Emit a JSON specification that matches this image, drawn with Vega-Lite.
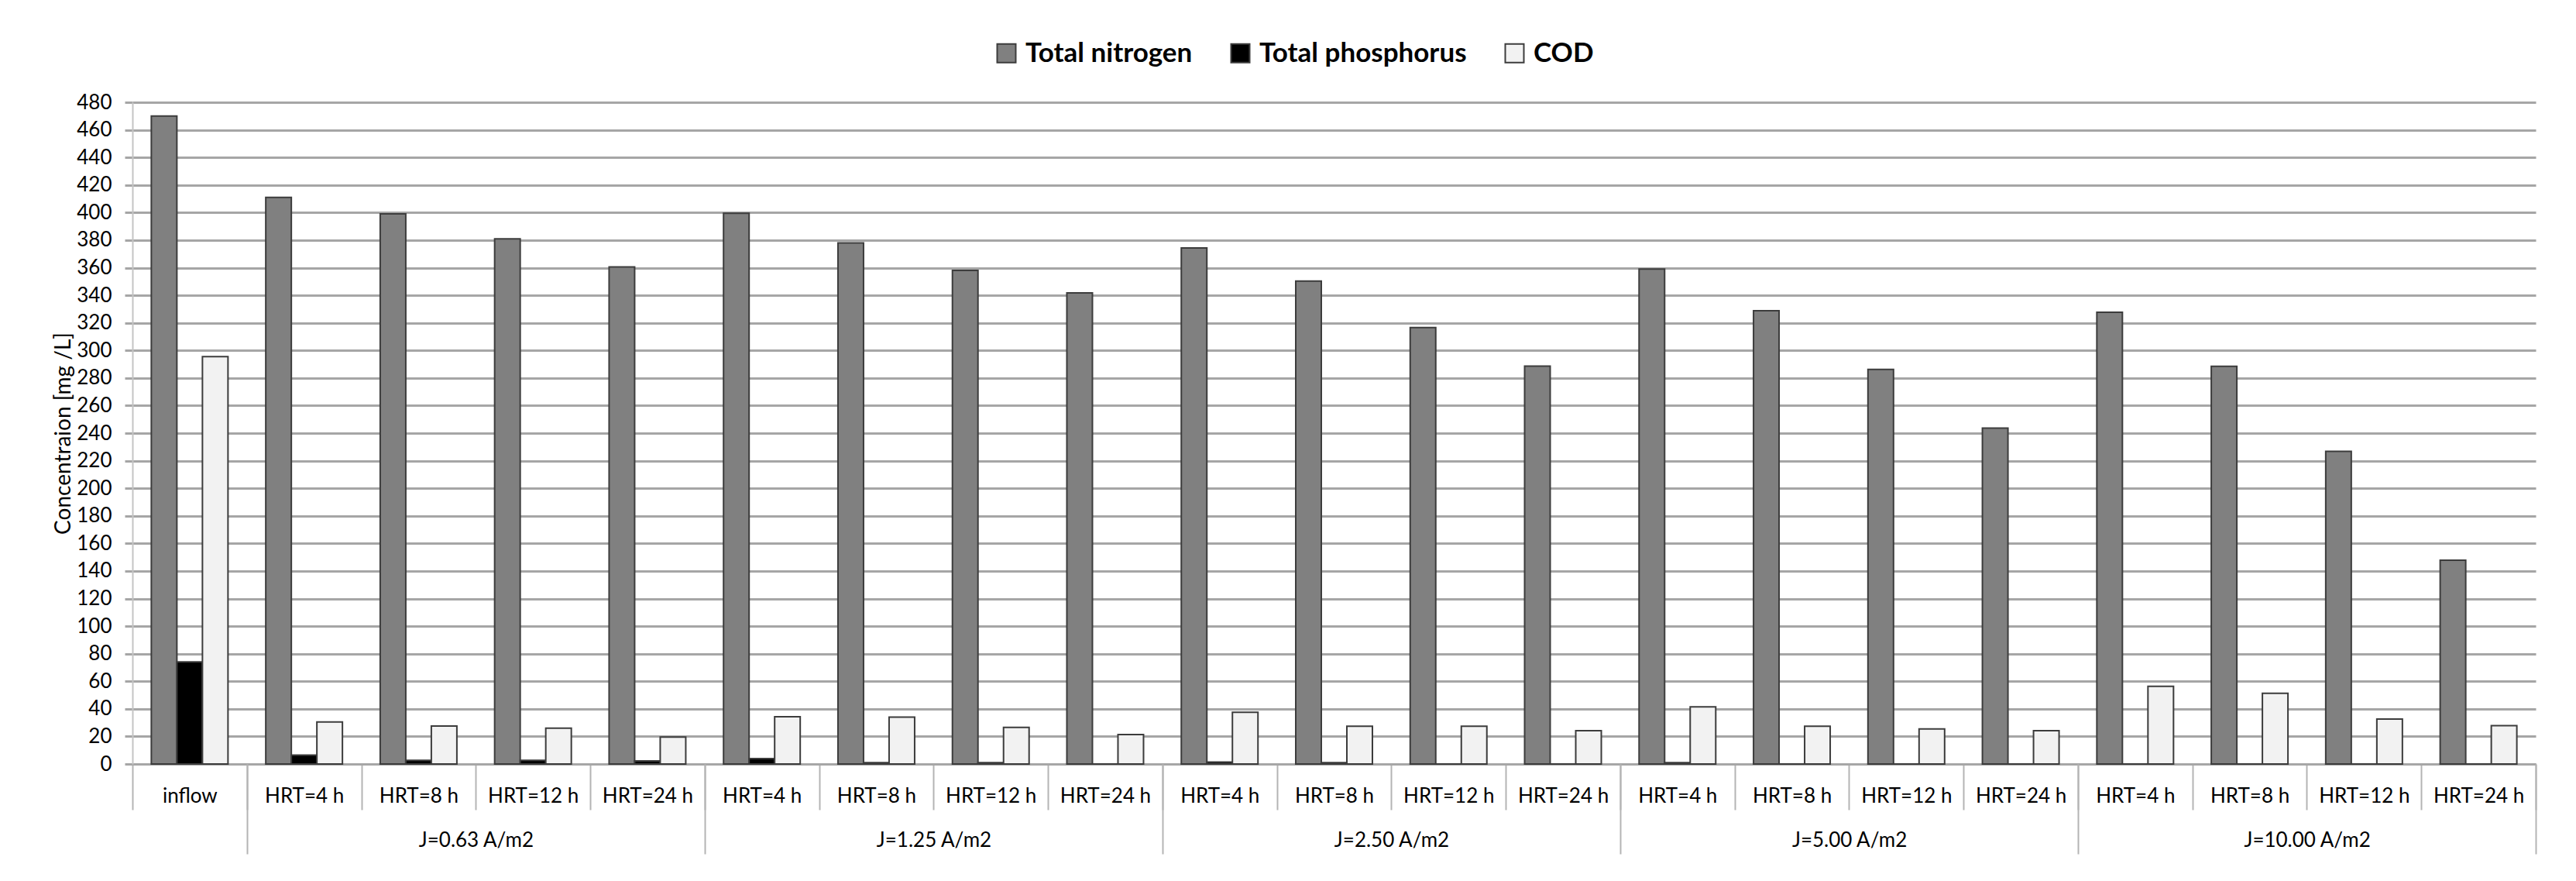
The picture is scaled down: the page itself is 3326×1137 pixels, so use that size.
{
  "$schema": "https://vega.github.io/schema/vega-lite/v6.json",
  "width": 3103,
  "height": 854,
  "autosize": {"type": "none"},
  "padding": {"left": 171, "top": 132, "right": 52, "bottom": 151},
  "background": "white",
  "config": {
    "font": "Lato",
    "view": {"stroke": null},
    "axis": {"labelColor": "#000000", "titleColor": "#000000"}
  },
  "data": {
    "values": [
      {"cat": "inflow", "Total nitrogen": 470, "Total phosphorus": 74, "COD": 295.5},
      {"cat": "J=0.63 A/m2|HRT=4 h", "Total nitrogen": 411, "Total phosphorus": 6.4, "COD": 30.5},
      {"cat": "J=0.63 A/m2|HRT=8 h", "Total nitrogen": 399, "Total phosphorus": 2.6, "COD": 27.5},
      {"cat": "J=0.63 A/m2|HRT=12 h", "Total nitrogen": 381, "Total phosphorus": 2.6, "COD": 26},
      {"cat": "J=0.63 A/m2|HRT=24 h", "Total nitrogen": 360.5, "Total phosphorus": 2.3, "COD": 19.5},
      {"cat": "J=1.25 A/m2|HRT=4 h", "Total nitrogen": 399.5, "Total phosphorus": 3.9, "COD": 34.3},
      {"cat": "J=1.25 A/m2|HRT=8 h", "Total nitrogen": 378, "Total phosphorus": 1, "COD": 34},
      {"cat": "J=1.25 A/m2|HRT=12 h", "Total nitrogen": 358, "Total phosphorus": 1, "COD": 26.5},
      {"cat": "J=1.25 A/m2|HRT=24 h", "Total nitrogen": 341.7, "Total phosphorus": 0, "COD": 21.3},
      {"cat": "J=2.50 A/m2|HRT=4 h", "Total nitrogen": 374.3, "Total phosphorus": 1.4, "COD": 37.5},
      {"cat": "J=2.50 A/m2|HRT=8 h", "Total nitrogen": 350.3, "Total phosphorus": 1, "COD": 27.4},
      {"cat": "J=2.50 A/m2|HRT=12 h", "Total nitrogen": 316.6, "Total phosphorus": 0, "COD": 27.4},
      {"cat": "J=2.50 A/m2|HRT=24 h", "Total nitrogen": 288.6, "Total phosphorus": 0, "COD": 24.2},
      {"cat": "J=5.00 A/m2|HRT=4 h", "Total nitrogen": 359, "Total phosphorus": 1, "COD": 41.5},
      {"cat": "J=5.00 A/m2|HRT=8 h", "Total nitrogen": 328.8, "Total phosphorus": 0, "COD": 27.4},
      {"cat": "J=5.00 A/m2|HRT=12 h", "Total nitrogen": 286.2, "Total phosphorus": 0, "COD": 25.4},
      {"cat": "J=5.00 A/m2|HRT=24 h", "Total nitrogen": 243.7, "Total phosphorus": 0, "COD": 24.2},
      {"cat": "J=10.00 A/m2|HRT=4 h", "Total nitrogen": 327.7, "Total phosphorus": 0, "COD": 56.3},
      {"cat": "J=10.00 A/m2|HRT=8 h", "Total nitrogen": 288.5, "Total phosphorus": 0, "COD": 51.3},
      {"cat": "J=10.00 A/m2|HRT=12 h", "Total nitrogen": 226.8, "Total phosphorus": 0, "COD": 32.6},
      {"cat": "J=10.00 A/m2|HRT=24 h", "Total nitrogen": 147.8, "Total phosphorus": 0, "COD": 27.8}
    ]
  },
  "transform": [
    {"fold": ["Total nitrogen", "Total phosphorus", "COD"], "as": ["series", "value"]}
  ],
  "encoding": {
    "y": {
      "field": "value",
      "type": "quantitative",
      "title": "Concentraion [mg /L]",
      "scale": {"domain": [0, 480], "nice": false},
      "axis": {
        "values": [0, 20, 40, 60, 80, 100, 120, 140, 160, 180, 200, 220, 240, 260, 280, 300, 320, 340, 360, 380, 400, 420, 440, 460, 480],
        "grid": true,
        "gridColor": "#a6a6a6",
        "gridWidth": 3,
        "tickSize": 10,
        "tickColor": "#a6a6a6",
        "tickWidth": 3,
        "domainColor": "#c4c4c4",
        "domainWidth": 2,
        "labelFontSize": 26,
        "labelPadding": 17,
        "titleFontSize": 28,
        "titleFontWeight": "normal",
        "titlePadding": 2
      }
    }
  },
  "layer": [
    {
      "mark": {"type": "bar", "stroke": "#3c3c3c", "strokeWidth": 2},
      "encoding": {
        "x": {
          "field": "cat",
          "type": "nominal",
          "sort": null,
          "scale": {"paddingInner": 0, "paddingOuter": 0},
          "axis": {
            "orient": "bottom",
            "title": null,
            "labelAngle": 0,
            "labelExpr": "isString(datum.value) ? (indexof(datum.value, '|') >= 0 ? split(datum.value, '|')[1] : datum.value) : ''",
            "tickBand": "extent",
            "tickSize": 59,
            "tickWidth": 2,
            "tickColor": "#b4b4b4",
            "domainColor": "#a6a6a6",
            "domainWidth": 3,
            "labelFontSize": 26,
            "labelBaseline": "middle",
            "labelPadding": -18,
            "labelLimit": 0,
            "grid": false
          }
        },
        "xOffset": {
          "field": "series",
          "type": "nominal",
          "sort": ["Total nitrogen", "Total phosphorus", "COD"],
          "scale": {"paddingOuter": 0.739, "paddingInner": 0}
        },
        "color": {
          "field": "series",
          "type": "nominal",
          "scale": {
            "domain": ["Total nitrogen", "Total phosphorus", "COD"],
            "range": ["#808080", "#000000", "#f2f2f2"]
          },
          "legend": {
            "orient": "none",
            "legendX": 1111,
            "legendY": -81,
            "direction": "horizontal",
            "title": null,
            "symbolType": "square",
            "symbolSize": 576,
            "symbolStrokeColor": "#3c3c3c",
            "symbolStrokeWidth": 2,
            "labelFontSize": 35,
            "labelFontWeight": "bold",
            "labelColor": "#000000",
            "labelOffset": 7,
            "columnPadding": 44,
            "labelLimit": 0
          }
        }
      }
    },
    {
      "mark": {"type": "bar", "opacity": 0},
      "encoding": {
        "x": {
          "field": "cat",
          "type": "nominal",
          "sort": null,
          "axis": {
            "orient": "bottom",
            "title": null,
            "labelAngle": 0,
            "tickBand": "extent",
            "tickSize": 116,
            "tickWidth": 2,
            "tickColor": {
              "condition": {"test": "isString(datum.value) && (datum.value == 'inflow' || indexof(datum.value, 'HRT=24 h') >= 0)", "value": "#b4b4b4"},
              "value": "transparent"
            },
            "domain": false,
            "labelExpr": "isString(datum.value) && indexof(datum.value, 'HRT=8 h') >= 0 ? split(datum.value, '|')[0] : ''",
            "labelOffset": 74,
            "labelBaseline": "middle",
            "labelPadding": -18,
            "labelFontSize": 26,
            "labelLimit": 0,
            "labelOverlap": false,
            "grid": false
          }
        }
      }
    }
  ],
  "resolve": {"axis": {"x": "independent"}}
}
